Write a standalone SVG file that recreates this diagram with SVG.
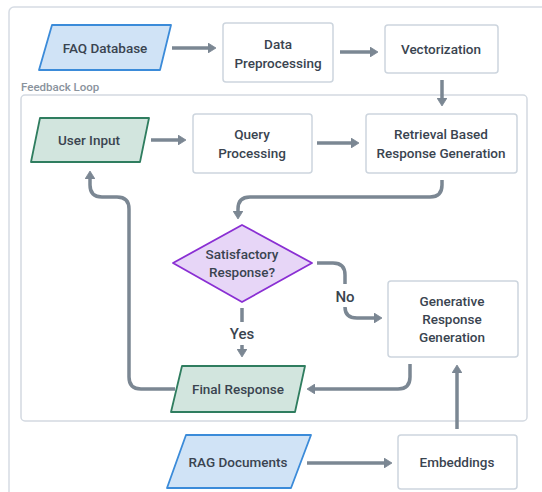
<svg xmlns="http://www.w3.org/2000/svg" width="542" height="492" viewBox="0 0 542 492">
<style>
.box{fill:#ffffff;stroke:#cdd5de;stroke-width:1.5}
.blue{fill:#d0e3f6;stroke:#3b8bd9;stroke-width:1.8;stroke-linejoin:round}
.green{fill:#d2e5de;stroke:#2f7d5f;stroke-width:1.8;stroke-linejoin:round}
.purple{fill:#e7d6f7;stroke:#8a2fd3;stroke-width:1.8;stroke-linejoin:round}
.t{font-family:Roboto,"Liberation Sans",Arial,sans-serif;font-size:13.5px;font-weight:500;fill:#3a4450;text-anchor:middle}
.lbl{font-family:Roboto,"Liberation Sans",Arial,sans-serif;font-size:15px;font-weight:500;fill:#3a4450;text-anchor:middle}
.grp{font-family:Roboto,"Liberation Sans",Arial,sans-serif;font-size:11.5px;font-weight:500;fill:#8a939d}
.c{fill:none;stroke:#7b8793;stroke-width:3.5;marker-end:url(#ah)}
</style>
<defs>
<marker id="ah" viewBox="0 0 8 10" refX="0" refY="5" markerWidth="8" markerHeight="10" markerUnits="userSpaceOnUse" orient="auto">
<path d="M0,0 L8,5 L0,10 z" fill="#7b8793" stroke="#7b8793" stroke-width="0.8" stroke-linejoin="round"/>
</marker>
</defs>
<rect x="0" y="0" width="542" height="492" fill="#ffffff"/>
<rect x="9" y="7" width="560" height="520" rx="5" fill="#ffffff" stroke="#d6dce4" stroke-width="1.5"/>
<g id="feedback-loop">
<rect x="21" y="95" width="506" height="326" rx="4" fill="none" stroke="#d3d9e1" stroke-width="1.5"/>
<text class="grp" x="21" y="91">Feedback Loop</text>
</g>
<g id="faq-database">
<path class="blue" d="M52,25 L171,25 L160,70 L39,70 Z"/>
<text class="t" x="105" y="52.5">FAQ Database</text>
</g>
<g id="data-preprocessing">
<rect class="box" x="223" y="23" width="110" height="59" rx="3"/>
<text class="t" x="278" y="49">Data</text>
<text class="t" x="278" y="68">Preprocessing</text>
</g>
<g id="vectorization">
<rect class="box" x="385" y="25" width="113" height="48" rx="3"/>
<text class="t" x="441" y="54">Vectorization</text>
</g>
<g id="user-input">
<path class="green" d="M40,118 L149,118 L140,162 L31,162 Z"/>
<text class="t" x="89" y="145">User Input</text>
</g>
<g id="query-processing">
<rect class="box" x="193" y="114" width="119" height="59" rx="3"/>
<text class="t" x="252" y="139">Query</text>
<text class="t" x="252" y="158">Processing</text>
</g>
<g id="retrieval">
<rect class="box" x="366" y="114" width="151" height="59" rx="3"/>
<text class="t" x="441" y="139">Retrieval Based</text>
<text class="t" x="441" y="158">Response Generation</text>
</g>
<g id="satisfactory">
<path class="purple" d="M242,225 L312,263 L242,302 L173,263 Z"/>
<text class="t" x="242" y="259">Satisfactory</text>
<text class="t" x="242" y="277">Response?</text>
</g>
<g id="generative">
<rect class="box" x="388" y="281" width="130" height="76" rx="3"/>
<text class="t" x="452" y="306">Generative</text>
<text class="t" x="452" y="324">Response</text>
<text class="t" x="452" y="342">Generation</text>
</g>
<g id="final-response">
<path class="green" d="M182,366 L305,366 L295,412 L171,412 Z"/>
<text class="t" x="238" y="394">Final Response</text>
</g>
<g id="rag-documents">
<path class="blue" d="M186,435 L311,435 L291,488 L167,488 Z"/>
<text class="t" x="238" y="467">RAG Documents</text>
</g>
<g id="embeddings">
<rect class="box" x="398" y="435" width="119" height="54" rx="3"/>
<text class="t" x="457" y="467">Embeddings</text>
</g>
<g id="connectors">
<path class="c" d="M172,48 H208"/>
<path class="c" d="M340,52 H370"/>
<path class="c" d="M442,80 V98"/>
<path class="c" d="M151,140 H178"/>
<path class="c" d="M317,143 H351"/>
<path class="c" d="M442,180 V185 Q442,197 430,197 H250 Q238,197 238,209 V211"/>
<path class="c" d="M317,263 H333 Q345,263 345,275 V284 M345,307 Q345,318 357,318 H374"/>
<path class="c" d="M242,308 V322 M242,345 V349"/>
<path class="c" d="M175,389 H141 Q129,389 129,377 V209 Q129,197 117,197 H102 Q90,197 90,185 V179"/>
<path class="c" d="M410,364 V377 Q410,389 398,389 H315"/>
<path class="c" d="M457,429 V373"/>
<path class="c" d="M307,463 H384"/>
<text class="lbl" x="345" y="302">No</text>
<text class="lbl" x="242" y="339">Yes</text>
</g>
</svg>
